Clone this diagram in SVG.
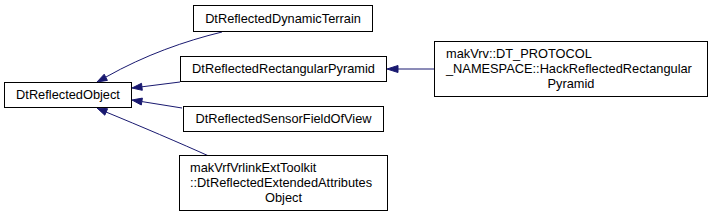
<svg xmlns="http://www.w3.org/2000/svg" width="715" height="219" viewBox="0 0 715 219">
<style>
.node rect{fill:#ffffff;stroke:#000000;stroke-width:1}
.node text{font-family:"Liberation Sans",Arial,sans-serif;font-size:12.8px;fill:#000000}
.c{text-anchor:middle}
.s{text-anchor:start}
.edge path{fill:none;stroke:#191970;stroke-width:1}
.edge polygon{fill:#191970;stroke:#191970;stroke-width:1}
</style>
<rect width="715" height="219" fill="#ffffff"/>
<g id="connectors" class="edge">
<path d="M222,32 C185,41 145,55 106,77"/>
<polygon points="97,82 107.4,80.4 104.2,74.2"/>
<path d="M180,82 L142,86.8"/>
<polygon points="132,88 142.3,90.3 141.5,83.3"/>
<path d="M182,108 L142,101.6"/>
<polygon points="132,100 142.4,98.1 141.3,105"/>
<path d="M211,157 C180,143 140,126 106,112"/>
<polygon points="97,108 107.6,108.7 104.8,115.2"/>
<path d="M434,69 L398,69"/>
<polygon points="387,69 398,65.5 398,72.5"/>
</g>
<g id="node-DtReflectedObject" class="node">
<rect x="4.5" y="82.5" width="127" height="25"/>
<text class="c" x="68" y="99">DtReflectedObject</text>
</g>
<g id="node-DtReflectedDynamicTerrain" class="node">
<rect x="193.5" y="5.5" width="179" height="26"/>
<text class="c" x="283" y="23">DtReflectedDynamicTerrain</text>
</g>
<g id="node-DtReflectedRectangularPyramid" class="node">
<rect x="180.5" y="56.5" width="206" height="25"/>
<text class="c" x="283.5" y="73">DtReflectedRectangularPyramid</text>
</g>
<g id="node-DtReflectedSensorFieldOfView" class="node">
<rect x="183.5" y="106.5" width="200" height="25"/>
<text class="c" x="283.5" y="123">DtReflectedSensorFieldOfView</text>
</g>
<g id="node-DtReflectedExtendedAttributesObject" class="node">
<rect x="179.5" y="155.5" width="208" height="55"/>
<text class="s" x="190" y="172">makVrfVrlinkExtToolkit</text>
<text class="s" x="190" y="187">::DtReflectedExtendedAttributes</text>
<text class="c" x="283.5" y="202">Object</text>
</g>
<g id="node-HackReflectedRectangularPyramid" class="node">
<rect x="434.5" y="41.5" width="273" height="55"/>
<text class="s" x="446" y="58">makVrv::DT_PROTOCOL</text>
<text class="s" x="446" y="73">_NAMESPACE::HackReflectedRectangular</text>
<text class="c" x="571" y="88">Pyramid</text>
</g>
</svg>
